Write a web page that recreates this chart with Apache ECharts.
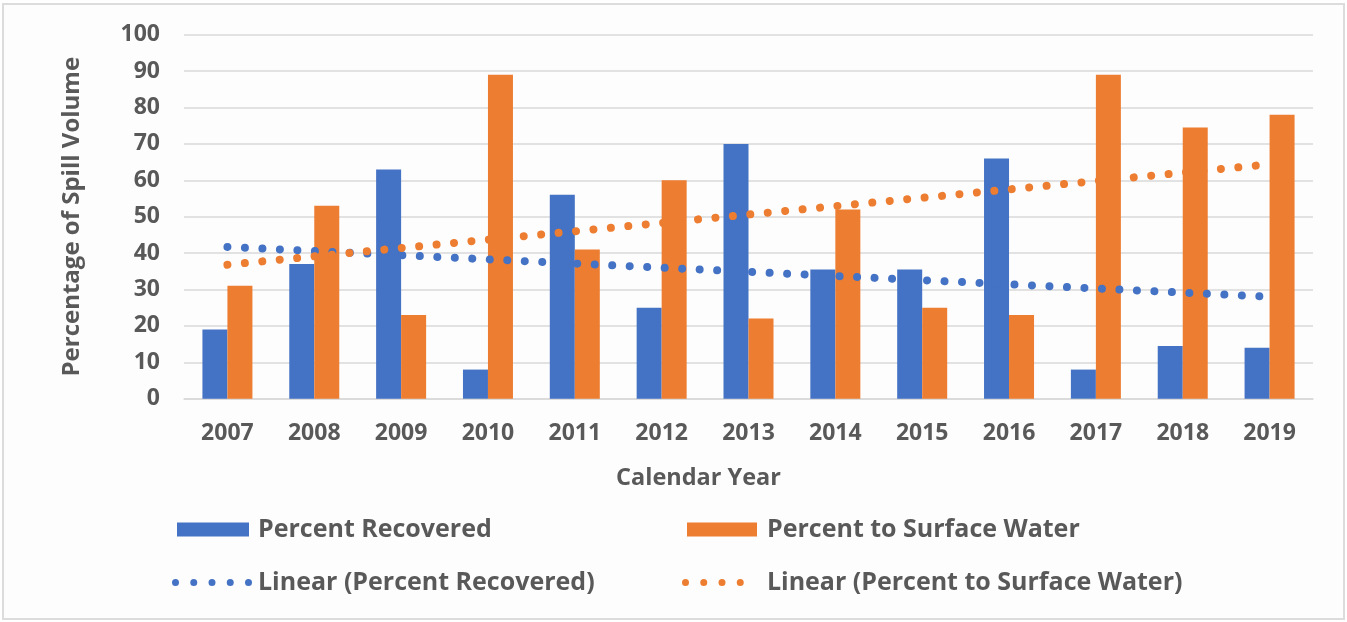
<!DOCTYPE html>
<html>
<head>
<meta charset="utf-8">
<script src="https://cdn.jsdelivr.net/npm/echarts@6/dist/echarts.min.js"></script>
<style>
  html, body { margin: 0; padding: 0; background: #fff; }
  #chart { position: absolute; left: 2px; top: 3px; width: 1339px; height: 613px; border: 2px solid #dcdcdc; background: #fdfdfd; }
</style>
</head>
<body>
<div id="chart"></div>
<script>
const years = ['2007', '2008', '2009', '2010', '2011', '2012', '2013', '2014', '2015', '2016', '2017', '2018', '2019']
const percentRecovered = [19, 37, 63, 8, 56, 25, 70, 35.5, 35.5, 66, 8, 14.5, 14]
const percentSurface = [31, 53, 23, 89, 41, 60, 22, 52, 25, 23, 89, 74.5, 78]
// trend lines (ends only)
const trendRecovered = [41.7, null, null, null, null, null, null, null, null, null, null, null, 28]
const trendSurface = [36.8, null, null, null, null, null, null, null, null, null, null, null, 64.4]
const yTicks = [0, 10, 20, 30, 40, 50, 60, 70, 80, 90, 100]

const BLUE = '#4472C4'
const ORANGE = '#ED7D31'
const FONT = 'Open Sans'
const TEXT = '#595959'

const chart = echarts.init(document.getElementById('chart'))

const dots = (color) => ({
  color: color,
  width: 8,
  type: [0.01, 17.5],
  cap: 'round'
})

// row of n dots as a legend icon
function dotIcon(n) {
  let p = ''
  for (let i = 0; i < n; i++) {
    const x = i * 18.25
    p += `M${x},3.5 a3.5,3.5 0 1,0 7,0 a3.5,3.5 0 1,0 -7,0 `
  }
  return 'path://' + p
}

const legendText = (pad) => ({ color: TEXT, fontSize: 25, fontWeight: 'bold', fontFamily: FONT, padding: [0, 0, 0, pad] })

chart.setOption({
  animation: false,
  grid: { left: 180, right: 30, top: 29.7, bottom: 219.3 },
  legend: [
    { data: ['Percent Recovered'], left: 173, top: 512, padding: 0, itemWidth: 72, itemHeight: 14, icon: 'rect', textStyle: legendText(4), selectedMode: false },
    { data: ['Percent to Surface Water'], left: 683, top: 512, padding: 0, itemWidth: 70, itemHeight: 14, icon: 'rect', textStyle: legendText(5), selectedMode: false },
    { data: [{ name: 'Linear (Percent Recovered)', icon: dotIcon(5) }], left: 168, top: 565, padding: 0, itemWidth: 80, itemHeight: 7, textStyle: legendText(1), selectedMode: false },
    { data: [{ name: 'Linear (Percent to Surface Water)', icon: dotIcon(4) }], left: 678, top: 565, padding: 0, itemWidth: 62, itemHeight: 7, textStyle: legendText(18), selectedMode: false }
  ],
  xAxis: {
    type: 'category',
    data: years,
    name: 'Calendar Year',
    nameLocation: 'middle',
    nameGap: 68,
    nameTextStyle: { color: TEXT, fontSize: 23.5, fontWeight: 'bold', fontFamily: FONT, padding: [0, 100, 0, 0] },
    axisLine: { lineStyle: { color: '#d9d9d9', width: 1.5 } },
    axisTick: { show: false },
    axisLabel: { color: TEXT, fontSize: 23, fontWeight: 'bold', fontFamily: FONT, margin: 23 }
  },
  yAxis: {
    type: 'value',
    min: yTicks[0],
    max: yTicks[yTicks.length - 1],
    interval: 10,
    name: 'Percentage of Spill Volume',
    nameLocation: 'middle',
    nameGap: 100,
    nameTextStyle: { color: TEXT, fontSize: 24, fontWeight: 'bold', fontFamily: FONT },
    axisLine: { show: false },
    axisTick: { show: false },
    axisLabel: { color: TEXT, fontSize: 23, fontWeight: 'bold', fontFamily: FONT, margin: 24 },
    splitLine: { lineStyle: { color: '#d9d9d9', width: 1.5 } }
  },
  series: [
    { name: 'Percent Recovered', type: 'bar', data: percentRecovered, barWidth: 25, barGap: '0%', itemStyle: { color: BLUE } },
    { name: 'Percent to Surface Water', type: 'bar', data: percentSurface, barWidth: 25, barGap: '0%', itemStyle: { color: ORANGE } },
    { name: 'Linear (Percent Recovered)', type: 'line', data: trendRecovered, connectNulls: true, symbol: 'none', itemStyle: { color: BLUE }, lineStyle: dots(BLUE), z: 5 },
    { name: 'Linear (Percent to Surface Water)', type: 'line', data: trendSurface, connectNulls: true, symbol: 'none', itemStyle: { color: ORANGE }, lineStyle: dots(ORANGE), z: 5 }
  ]
})
</script>
</body>
</html>
